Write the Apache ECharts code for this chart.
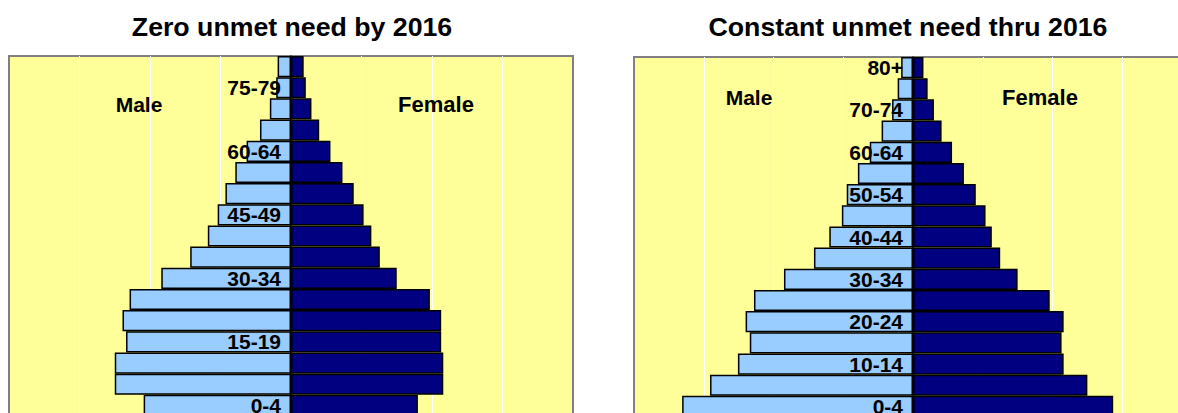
<!DOCTYPE html>
<html>
<head>
<meta charset="utf-8">
<script src="https://cdn.jsdelivr.net/npm/echarts@6/dist/echarts.min.js"></script>
<style>
  html, body { margin: 0; padding: 0; background: #ffffff; }
  #chart { width: 1178px; height: 413px; }
</style>
</head>
<body>
<div id="chart"></div>
<script>
// Age groups, bottom to top
const ageGroups = ['0-4','5-9','10-14','15-19','20-24','25-29','30-34','35-39','40-44','45-49','50-54','55-59','60-64','65-69','70-74','75-79','80+'];

// Left panel: Zero unmet need by 2016 (grid unit = 100)
const zeroMale   = [209, 250, 250, 234, 239, 229, 184, 143, 118, 104, 93, 79, 63, 44, 30, 21, 19];
const zeroFemale = [180, 216, 216, 213, 213, 197, 150, 126, 114, 103, 89, 73, 56, 40, 29, 21, 18];

// Right panel: Constant unmet need thru 2016
const constMale   = [331, 291, 251, 234, 240, 228, 185, 142, 120, 102, 95, 79, 62, 45, 30, 22, 17];
const constFemale = [287, 250, 216, 213, 216, 196, 150, 125, 113, 104, 90, 73, 56, 41, 30, 21, 15];

const titles = ['Zero unmet need by 2016', 'Constant unmet need thru 2016'];
const sexLabels = ['Male', 'Female'];

const FONT = "'Liberation Sans', Arial, sans-serif";
const MALE_COLOR = '#99CCFF';
const FEMALE_COLOR = '#000080';

const chart = echarts.init(document.getElementById('chart'), null, { renderer: 'svg' });

function xAxisCfg(i) {
  return {
    gridIndex: i, type: 'value', min: -400, max: 400, interval: 100,
    axisLabel: { show: false }, axisTick: { show: false }, axisLine: { show: false },
    splitLine: { show: true, showMinLine: false, showMaxLine: false, lineStyle: { color: '#FFFFFF', width: 1 } }
  };
}
function yAxisCfg(i, interval, halfWidth) {
  return {
    gridIndex: i, type: 'category', data: ageGroups, z: 10,
    position: 'left', offset: -halfWidth,
    axisTick: { show: false },
    axisLine: { show: true, onZero: false, lineStyle: { color: '#000000', width: 1.5 } },
    axisLabel: { interval: interval, margin: 10, fontSize: 21, fontWeight: 'bold', color: '#000000', fontFamily: FONT },
    splitLine: { show: false }
  };
}
function barSeries(i, data, color, neg) {
  return {
    type: 'bar', xAxisIndex: i, yAxisIndex: i,
    data: neg ? data.map(v => -v) : data,
    barGap: '-100%', barCategoryGap: 0,
    itemStyle: { color: color, borderColor: '#000000', borderWidth: 1.5 },
    silent: true
  };
}
function txt(x, y, text, size) {
  return {
    type: 'text', x: x, y: y, z: 100,
    style: { text: text, fill: '#000000', font: 'bold ' + size + 'px ' + FONT, textAlign: 'center', textVerticalAlign: 'middle' }
  };
}

const option = {
  animation: false,
  backgroundColor: '#ffffff',
  grid: [
    { left: 9, top: 56, width: 564, height: 360, containLabel: false, outerBoundsMode: 'none',
      show: true, backgroundColor: '#FFFF99', borderColor: '#808080', borderWidth: 2 },
    { left: 634, top: 57, width: 558, height: 360, containLabel: false, outerBoundsMode: 'none',
      show: true, backgroundColor: '#FFFF99', borderColor: '#808080', borderWidth: 2 }
  ],
  xAxis: [xAxisCfg(0), xAxisCfg(1)],
  yAxis: [yAxisCfg(0, 2, 282), yAxisCfg(1, 1, 279)],
  series: [
    barSeries(0, zeroMale, MALE_COLOR, true),
    barSeries(0, zeroFemale, FEMALE_COLOR, false),
    barSeries(1, constMale, MALE_COLOR, true),
    barSeries(1, constFemale, FEMALE_COLOR, false)
  ],
  graphic: [
    txt(292, 27, titles[0], 26.7),
    txt(908, 27, titles[1], 26.7),
    txt(139, 104, sexLabels[0], 21),
    txt(436, 104, sexLabels[1], 22),
    txt(749, 97, sexLabels[0], 21),
    txt(1040, 97, sexLabels[1], 22)
  ]
};
chart.setOption(option);
</script>
</body>
</html>
